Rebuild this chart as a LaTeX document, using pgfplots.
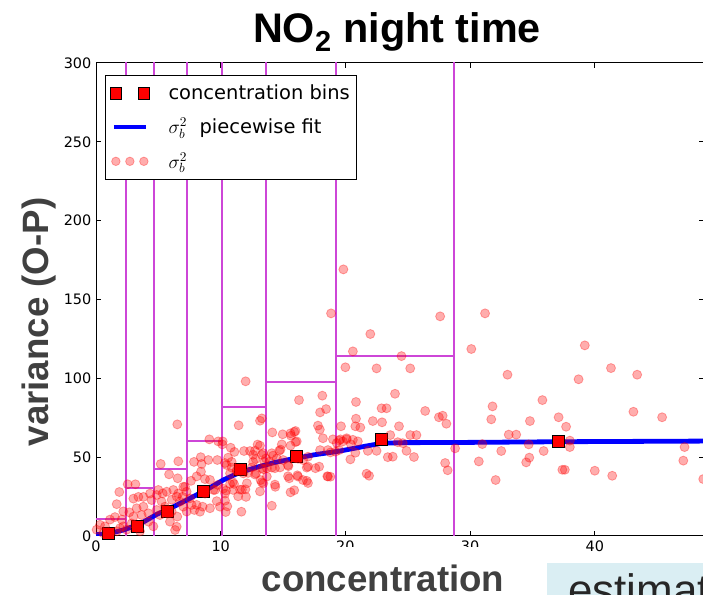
\documentclass[border=0pt]{standalone}
\usepackage{pgfplots}
\pgfplotsset{compat=1.18}
\usepackage{fontspec}
\setmainfont{DejaVu Sans}
\newfontfamily\arialfont{Liberation Sans}
\definecolor{binmag}{RGB}{205,70,215}
\definecolor{labelgray}{RGB}{64,64,64}
\definecolor{boxblue}{RGB}{218,238,243}

\begin{document}
\begin{tikzpicture}
\useasboundingbox (0pt,0pt) rectangle (527.25pt,446.25pt);
\clip (0pt,0pt) rectangle (527.25pt,446.25pt);
\begin{axis}[
  at={(72pt,44.25pt)}, anchor=south west,
  scale only axis, width=456pt, height=354.75pt,
  xmin=0, xmax=48.76, ymin=0, ymax=300,
  xtick={0,10,20,30,40}, ytick={0,50,100,150,200,250,300},
  tick align=inside, major tick length=3.5pt,
  axis line style={line width=0.75pt},
  every tick/.style={line width=0.75pt, black},
  tick label style={font=\fontsize{10.8}{12}\selectfont},
  /pgf/number format/assume math mode=true,
  legend cell align=left,
  legend style={at={(0.0148,0.9746)}, anchor=north west, draw=black, line width=0.8pt,
    inner xsep=3pt, inner ysep=5pt, row sep=8.5pt, font=\fontsize{14.6}{16.5}\selectfont},
]
% bin rectangles
\addplot[draw=binmag, line width=1.4pt, ycomb, mark=none, forget plot] coordinates {
 (2.4,320) (4.63,320) (7.32,320) (10.08,320) (13.63,320) (19.25,320) (28.7,320)};
\addplot[draw=binmag, line width=1.4pt, mark=none, forget plot] coordinates {
 (0,10.8) (2.4,10.8) (2.4,30.2) (4.63,30.2) (4.63,42.3) (7.32,42.3) (7.32,60.4)
 (10.08,60.4) (10.08,81.6) (13.63,81.6) (13.63,97.4) (19.25,97.4) (19.25,114.1) (28.7,114.1)};
% piecewise fit
\addplot[blue, line width=3.6pt, line join=round, mark=none, forget plot] coordinates {
 (0,0.8) (1.0,1.5) (2.19,3.8) (3.5,7.5) (4.87,13.7) (6.2,18.5) (7.54,23.9) (8.9,29.5)
 (10.2,35.5) (11.5,40.2) (12.9,43.6) (14.2,46.4) (15.56,48.6) (17.5,51.5) (19.57,53.9)
 (21.5,56.8) (22.9,58.8) (24.5,59.2) (28.7,59.3) (37.5,59.8) (48.76,60.2)};
% concentration bins
\addplot[only marks, mark=square*, mark size=4.5pt, mark options={fill=red, draw=black, line width=0.5pt}, forget plot] coordinates {
 (0.99,1.7) (3.34,5.9) (5.72,15.9) (8.64,28.5) (11.57,42.3) (16.1,50.7) (22.9,61.3) (37.1,59.8)};
% scatter
\addplot[only marks, mark=*, mark size=3.4pt, mark options={fill=red, draw=red, fill opacity=0.32, draw opacity=0.32, line width=0.6pt}, forget plot] coordinates {
 (19.84,169.1) (18.85,141.2) (27.6,139.3) (31.2,141.2) (22.0,128.1) (20.6,117.1) (24.5,114.1)
 (30.1,118.6) (39.2,120.9) (20.0,107.0) (22.5,106.3) (25.2,106.3) (33.0,102.3) (38.7,99.4)
 (41.3,106.5) (43.4,102.3) (12.0,98.1)
 (20.85,85.0) (23.98,90.2) (22.9,81.0) (23.3,81.0) (26.4,79.3) (27.5,75.3) (27.8,76.3)
 (28.1,71.2) (20.85,74.4) (22.2,72.9) (22.94,72.1) (19.65,69.6) (20.8,69.6) (21.2,68.8)
 (24.3,69.6) (23.6,64.0) (25.2,64.0) (25.7,64.0) (19.0,61.3) (19.6,61.3) (20.1,61.3)
 (20.6,61.0) (21.0,60.0) (20.45,58.1) (24.2,59.5) (24.6,58.9) (19.3,59.0) (20.8,52.8)
 (21.8,54.0) (22.5,54.0) (24.9,54.0) (25.5,50.1) (23.4,50.0) (23.8,50.3) (20.4,48.6)
 (21.7,39.5) (21.9,38.2) (28.0,46.3) (28.2,41.7) (28.8,55.6) (31.8,82.2) (31.7,74.0)
 (35.8,86.2) (37.1,75.3) (37.7,69.3) (34.8,72.9) (33.1,64.3) (33.7,64.3) (30.98,58.3)
 (34.7,58.1) (35.9,53.9) (32.5,53.9) (34.75,49.7) (34.5,46.7) (30.7,47.3) (32.05,35.5)
 (37.4,42.0) (37.6,42.0) (38.0,56.4) (38.0,60.5) (40.0,41.4) (41.4,38.2) (43.1,78.8)
 (45.4,75.3) (47.2,56.4) (47.1,47.8) (48.7,36.1) (18.8,53.0) (18.8,37.6)
 (18.15,89.0) (16.28,86.2) (17.97,78.4) (18.45,80.5) (14.14,65.7) (6.52,70.8) (13.3,74.6)
 (13.15,73.1) (11.44,70.2) (17.8,70.0) (17.95,67.5) (15.9,66.0) (14.97,64.5) (15.64,63.6)
 (16.1,60.0) (14.9,58.1) (15.6,57.3) (14.7,54.1) (13.15,57.3) (12.75,54.1) (11.87,53.9)
 (12.35,53.9) (11.1,53.3) (10.6,49.7) (10.13,58.1) (9.09,61.3) (9.73,48.2) (9.01,48.2)
 (7.86,47.0) (8.47,45.7) (6.6,47.4) (5.19,45.7) (5.86,39.1) (6.55,36.6) (8.42,40.8)
 (8.07,37.8) (8.74,36.1) (9.14,35.6) (7.62,35.0) (7.14,31.2) (9.54,29.2) (9.76,32.4)
 (10.75,33.0) (11.0,29.2) (11.98,29.6) (13.2,35.5) (13.3,34.0) (11.66,15.4) (13.42,42.3)
 (14.1,43.4) (14.38,31.2) (15.5,36.6) (16.2,37.7) (14.1,19.2) (16.6,35.5) (16.9,35.0)
 (16.9,43.4) (17.6,43.0) (17.9,44.0) (18.6,37.7) (18.2,62.0) (19.2,53.5)
 (2.19,15.6) (1.87,27.9) (2.54,32.8) (3.16,32.8) (1.66,20.2) (3.0,23.7) (3.4,24.8)
 (3.8,24.8) (4.33,26.9) (4.46,22.8) (3.26,17.6) (3.8,18.6) (2.67,15.0) (3.0,12.3)
 (3.66,13.3) (4.2,14.4) (4.86,16.5) (5.13,13.3) (5.53,18.6) (5.67,14.4) (6.07,15.5)
 (6.52,12.3) (6.47,5.9) (6.34,3.8) (5.93,9.1) (7.0,18.6) (7.27,15.5) (7.54,23.9)
 (7.67,19.7) (8.07,19.7) (8.55,18.6) (7.89,16.5) (5.0,29.2) (4.87,26.0) (5.35,27.0)
 (5.67,28.1) (6.2,29.2) (6.6,27.0) (6.95,24.9) (7.0,31.2) (7.27,28.1) (5.26,21.8)
 (6.74,21.8) (6.07,23.0) (6.47,25.0) (1.12,10.4) (0.72,6.1) (0.32,7.1) (1.52,12.0)
 (2.06,10.4) (2.19,6.1) (2.46,4.0) (0.05,4.0) (1.66,3.0) (1.93,5.0) (0.59,1.7)
 (1.12,1.7) (3.53,3.0) (4.2,9.1) (4.6,6.1) (2.86,8.0) (8.74,26.9) (9.41,29.2)
 (10.2,30.0) (10.35,26.9) (9.68,22.1) (9.14,17.6) (9.94,18.6) (8.34,15.4) (10.75,39.7)
 (11.28,41.8) (11.82,39.7) (10.48,45.0) (10.88,43.4) (12.48,43.4) (12.83,39.7) (12.1,33.4)
 (13.7,37.7) (13.42,33.4) (14.5,49.2) (15.0,48.2) (15.43,44.3) (16.6,48.2) (17.0,50.3)
 (17.97,54.5) (13.42,52.5) (13.63,49.2) (15.6,65.1) (16.0,66.6) (16.0,59.6) (14.8,54.8)
 (12.96,58.0) (10.8,56.0) (10.16,60.0) (12.6,51.5) (13.3,51.5) (14.1,52.5) (14.2,51.0)
 (19.5,60.6) (19.8,60.0) (18.6,54.5) (19.5,54.5) (20.1,62.0) (16.0,49.3) (16.2,49.0)
 (10.34,46.3) (10.88,47.0) (12.6,47.0) (12.8,48.8) (13.5,47.0) (13.9,47.2) (15.4,45.0)
 (17.0,44.0) (15.4,37.9) (16.15,38.5) (17.0,33.6) (18.55,37.9) (14.35,32.6) (13.15,28.3)
 (15.6,27.7) (15.9,29.0) (11.4,25.2) (12.03,24.8) (11.55,29.4) (11.7,29.4) (10.96,34.2)
 (11.07,33.0) (10.43,28.8) (10.35,22.4) (10.53,18.8) (10.4,15.2) (11.28,41.0) (12.2,40.0)
 (12.75,39.0) (13.3,43.0) (13.7,43.0) (14.35,43.0) (14.76,43.5) (8.4,50.0) (9.8,60.0)};
% legend
\addlegendimage{legend image code/.code={
  \path[draw=none, fill=none] (0pt,0pt) -- (42pt,0pt);
  \path[draw=black, fill=red, line width=0.5pt] (0pt,-4.4pt) rectangle (8.8pt,4.4pt);
  \path[draw=black, fill=red, line width=0.5pt] (21pt,-4.4pt) rectangle (29.8pt,4.4pt);}}
\addlegendentry{concentration bins}
\addlegendimage{legend image code/.code={
  \path[draw=none, fill=none] (0pt,0pt) -- (42pt,0pt);
  \path[draw=blue, fill=none, line width=2.5pt] (3pt,0pt) -- (27pt,0pt);}}
\addlegendentry{$\sigma_b^2$\ \ piecewise fit}
\addlegendimage{legend image code/.code={
  \path[draw=none, fill=none] (0pt,0pt) -- (42pt,0pt);
  \path[draw=red, fill=red, fill opacity=0.32, draw opacity=0.32, line width=0.6pt]
    (4.5pt,0pt) circle (3.2pt) (15pt,0pt) circle (3.2pt) (25.5pt,0pt) circle (3.2pt);}}
\addlegendentry{$\sigma_b^2$}
\end{axis}
\fill[white] (191pt,0pt) rectangle (398pt,36pt);
\node[anchor=base, inner sep=0pt, text=labelgray, font=\arialfont\bfseries\fontsize{27.5}{30}\selectfont] at (287.25pt,2.25pt) {concentration};
\node[anchor=base, rotate=90, inner sep=0pt, text=labelgray, font=\arialfont\bfseries\fontsize{27.5}{30}\selectfont] at (36pt,204.75pt) {variance (O-P)};
\node[anchor=base, inner sep=0pt, font=\arialfont\bfseries\fontsize{31}{34}\selectfont] at (297.75pt,414pt) {NO\textsubscript{2} night time};
\fill[boxblue] (410.25pt,-5pt) rectangle (540pt,24pt);
\node[anchor=base west, inner sep=0pt, text=black!85, font=\arialfont\fontsize{33}{36}\selectfont] at (426pt,-8.25pt) {estimate};
\end{tikzpicture}
\end{document}
